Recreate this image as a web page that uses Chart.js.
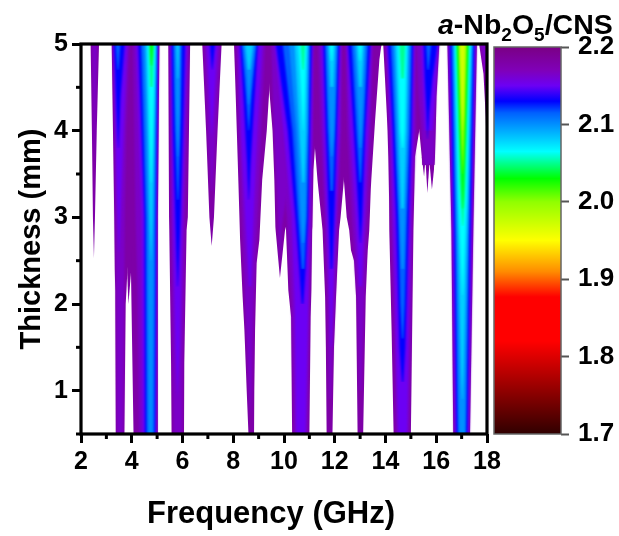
<!DOCTYPE html>
<html>
<head>
<meta charset="utf-8">
<title>a-Nb2O5/CNS</title>
<script src="https://cdn.jsdelivr.net/npm/chart.js@4"></script>
<style>
    html, body { margin: 0; padding: 0; background: #fff; overflow: hidden; }
    #wrap { position: relative; width: 619px; height: 536px; }
    canvas { position: absolute; top: 0; }
    #contourChart { left: 0; filter: blur(0.35px); }
    #scaleChart { left: 480px; filter: blur(0.35px); }
    #barTitle, #freqTitle {
        position: absolute; white-space: nowrap; color: #000; filter: blur(0.3px);
        font: bold 28.5px "Liberation Sans", Arial, sans-serif; line-height: 30px;
    }
    #barTitle { left: 438px; top: 9px; }
    #barTitle sub { font-size: 19px; line-height: 0; vertical-align: -7px; }
    #freqTitle { left: 147px; top: 496px; font-size: 31px; line-height: 34px; }
</style>
</head>
<body>
<div id="wrap">
    <canvas id="contourChart" width="619" height="536"></canvas>
    <canvas id="scaleChart" width="139" height="536"></canvas>
    <div id="barTitle"><i>a</i>-Nb<sub>2</sub>O<sub>5</sub>/CNS</div>
    <div id="freqTitle">Frequency (GHz)</div>
</div>
<script>
const freqLabels = [2, 4, 6, 8, 10, 12, 14, 16, 18];
const freqMinor = [3, 5, 7, 9, 11, 13, 15, 17];
const thickLabels = [1, 2, 3, 4, 5];
const thickMinor = [0.5, 1.5, 2.5, 3.5, 4.5];
const barLabels = [1.7, 1.8, 1.9, 2.0, 2.1, 2.2];

// colour scale of the bar
const paletteValues = [2.2, 2.17, 2.15, 2.13, 2.115, 2.1, 2.065, 2.05, 2.03, 2.0, 1.95, 1.91, 1.877, 1.82, 1.7];
const paletteColors = ['#7a0084', '#8000b8', '#6c00f4', '#0000ff', '#0060ff', '#0090ff', '#00ffff', '#00ff90',
    '#00ff00', '#90ff00', '#ffff00', '#ff8c00', '#ff0000', '#ff0000', '#300000'];

// contour levels, each lobe is rows of [thickness, left GHz, right GHz]
const levels = [2.18, 2.165, 2.15, 2.13, 2.115, 2.1, 2.08, 2.065, 2.05, 2.03, 2.0, 1.97];

const contour218 = [
    [[5, 2.38, 2.71], [4, 2.43, 2.62], [3, 2.47, 2.55], [2.53, 2.51, 2.51]],
    [[5, 3.21, 4.3], [3, 3.31, 4.3], [2.4, 3.33, 3.83], [2.15, 3.35, 3.79], [2, 3.35, 3.76], [0.5, 3.37, 3.71]],
    [[5, 3.8, 4.2], [2.36, 3.82, 3.97], [2, 3.87, 3.87]],
    [[5, 3.9, 5.09], [3, 3.95, 5.03], [2.36, 3.97, 5.03], [0.5, 4.07, 5.03]],
    [[5, 5.44, 6.3], [3, 5.47, 6.21], [2.85, 5.48, 6.16], [1.32, 5.55, 6.07], [0.5, 5.57, 6.06]],
    [[5, 6.78, 7.54], [4, 6.93, 7.38], [3, 7.06, 7.24], [2.67, 7.15, 7.15]],
    [[5, 8.03, 9.6], [4.47, 8.09, 9.42], [4, 8.14, 9.32], [3.43, 8.2, 9.14], [2.74, 8.27, 9.03], [2.47, 8.31, 8.92],
        [2.08, 8.37, 8.89], [1.7, 8.44, 8.86], [1, 8.53, 8.83], [0.5, 8.6, 8.82]],
    [[5, 9.4, 10.5], [4.47, 9.42, 10.5], [4, 9.55, 10.4], [3.43, 9.62, 10.2], [2.89, 9.66, 10.08], [2.85, 9.67, 10.04], [2.3, 9.84, 9.84]],
    [[5, 10, 11.3], [3.8, 10, 11.22], [3.55, 10, 11.16], [2.89, 10.08, 11.12], [2.85, 10.08, 11.11], [2.16, 10.17, 11.08], [1.85, 10.28, 11.05], [0.5, 10.32, 11]],
    [[5, 11, 12.5], [3.8, 11.22, 12.4], [3.43, 11.32, 12.36], [3, 11.47, 12.23], [2.85, 11.52, 12.17], [2.08, 11.62, 12.05], [1.5, 11.65, 11.97], [0.5, 11.68, 11.91]],
    [[5, 12, 13.85], [4.95, 12.1, 13.82], [4.82, 12.1, 13.76], [4.12, 12.2, 13.59], [3.43, 12.36, 13.44], [3.32, 12.39, 13.42], [3, 12.47, 13.38],
        [2.85, 12.57, 13.36], [2.62, 12.64, 13.3], [2.5, 12.76, 13.28], [2.08, 12.84, 13.22], [0.5, 12.9, 13.12]],
    [[5, 13.91, 15.33], [4.2, 14.05, 15.33], [4, 14.08, 15.33], [3.7, 14.11, 15.16], [3.24, 14.14, 15.13], [2.85, 14.15, 15.1], [1.7, 14.24, 15.05], [0.5, 14.32, 15]],
    [[5, 15.1, 16.12], [4.39, 15.2, 16.01], [4, 15.33, 15.98], [3.7, 15.43, 15.95], [3.6, 15.45, 15.93]],
    [[3.7, 15.43, 15.58], [3.47, 15.52, 15.52]],
    [[3.7, 15.57, 15.75], [3.28, 15.65, 15.65]],
    [[3.7, 15.72, 15.93], [3.55, 15.76, 15.91], [3.32, 15.83, 15.83]],
    [[5, 16.44, 17.6], [2.85, 16.6, 17.46], [0.5, 16.67, 17.33]],
    [[5, 17.69, 18], [4.66, 17.86, 18], [4.16, 17.95, 18], [3.6, 18, 18]]
];
const contour2165 = [
    [[5, 2.45, 2.63], [4, 2.5, 2.55], [3.6, 2.52, 2.52]],
    [[5, 3.25, 3.9], [4, 3.33, 3.78], [3, 3.36, 3.72], [2, 3.4, 3.7], [0.5, 3.42, 3.66]],
    [[5, 4.05, 5.06], [3, 4.15, 5], [2.3, 4.22, 4.98], [0.5, 4.28, 4.99]],
    [[5, 5.5, 6.24], [3, 5.55, 6.1], [1.3, 5.62, 6], [0.5, 5.65, 5.98]],
    [[5, 6.85, 7.48], [4, 7, 7.32], [3.3, 7.13, 7.17]],
    [[5, 8.12, 9.25], [4, 8.22, 9.1], [3, 8.35, 8.95], [2, 8.47, 8.8], [1, 8.62, 8.73], [0.7, 8.67, 8.68]],
    [[5, 9.5, 10.5], [4, 9.6, 10.5], [3.43, 9.7, 10.2], [2.9, 9.78, 9.92], [2.5, 9.84, 9.85]],
    [[5, 9.55, 11.17], [4, 9.8, 11.14], [3, 10.12, 11.08], [2, 10.3, 11], [0.5, 10.4, 10.92]],
    [[5, 11.35, 12.28], [4, 11.45, 12.25], [3, 11.6, 12.12], [2, 11.72, 12], [0.9, 11.78, 11.84]],
    [[5, 12.42, 13.5], [4, 12.5, 13.42], [3, 12.68, 13.28], [2, 12.9, 13.15], [1, 12.98, 13.05]],
    [[5, 14, 15.2], [4, 14.15, 15.2], [3, 14.22, 15.05], [1.5, 14.35, 14.98], [0.5, 14.42, 14.92]],
    [[5, 15.22, 16.1], [4.4, 15.3, 15.98], [4, 15.42, 15.94], [3.6, 15.5, 15.9]],
    [[5, 16.47, 17.58], [2.85, 16.62, 17.44], [0.5, 16.7, 17.3]],
    [[5, 17.75, 18], [4.66, 17.92, 18]]
];
const contour215 = [
    [[5, 3.28, 3.82], [4, 3.36, 3.68], [3.2, 3.42, 3.58], [2.6, 3.49, 3.51]],
    [[5, 4.17, 5.03], [3, 4.38, 4.98], [0.5, 4.42, 4.96]],
    [[5, 5.53, 6.18], [3, 5.62, 6], [1.5, 5.72, 5.9], [0.9, 5.8, 5.8]],
    [[5, 6.95, 7.38], [4.3, 7.08, 7.24], [3.9, 7.15, 7.15]],
    [[5, 8.2, 9.15], [4, 8.3, 8.95], [3, 8.47, 8.8], [2.2, 8.62, 8.7]],
    [[5, 9.62, 11.13], [4, 9.98, 11.1], [3, 10.3, 11.02], [2, 10.42, 10.95], [0.5, 10.48, 10.85]],
    [[5, 11.45, 12.24], [4, 11.55, 12.18], [3, 11.68, 12.05], [2, 11.8, 11.92], [1.5, 11.84, 11.87]],
    [[5, 12.48, 13.44], [4, 12.6, 13.32], [3, 12.82, 13.18], [2.2, 12.97, 13.06]],
    [[5, 14.05, 15.14], [4, 14.2, 15.1], [3, 14.3, 15], [1.5, 14.42, 14.9], [0.5, 14.5, 14.85]],
    [[5, 15.4, 16.08], [4.4, 15.48, 15.95], [4, 15.55, 15.85]],
    [[5, 16.5, 17.55], [2.85, 16.65, 17.4], [0.5, 16.75, 17.27]]
];
const contour213 = [
    [[5, 3.3, 3.72], [4.4, 3.38, 3.56], [3.8, 3.46, 3.48]],
    [[5, 4.26, 5], [3, 4.5, 4.95], [0.5, 4.52, 4.92]],
    [[5, 5.57, 6.1], [4, 5.62, 6.02], [3, 5.72, 5.92], [2.2, 5.8, 5.82]],
    [[5, 7.08, 7.28], [4.7, 7.16, 7.18]],
    [[5, 8.27, 8.97], [4.3, 8.42, 8.82], [3.6, 8.55, 8.68], [3.2, 8.6, 8.62]],
    [[5, 9.68, 11.09], [4, 10.15, 11.02], [3, 10.45, 10.95], [2.4, 10.6, 10.85], [2, 10.7, 10.76]],
    [[5, 11.55, 12.18], [4, 11.65, 12.08], [3, 11.77, 11.98], [2.4, 11.84, 11.9]],
    [[5, 12.53, 13.4], [4, 12.75, 13.2], [3, 12.95, 13.08], [2.7, 13, 13.02]],
    [[5, 14.1, 15.08], [4, 14.28, 15.02], [3, 14.42, 14.92], [1.5, 14.55, 14.78], [1.1, 14.65, 14.7]],
    [[5, 15.5, 16.05], [4.6, 15.55, 15.85], [4.2, 15.62, 15.72], [3.9, 15.65, 15.66]],
    [[5, 16.54, 17.5], [2.85, 16.7, 17.35], [0.5, 16.8, 17.22]]
];
const contour2115 = [
    [[5, 3.36, 3.55], [4.7, 3.44, 3.48]],
    [[5, 4.36, 4.99], [3, 4.55, 4.93], [0.5, 4.58, 4.89]],
    [[5, 5.63, 5.98], [4, 5.7, 5.92], [3.2, 5.8, 5.84]],
    [[5, 8.33, 8.92], [4.4, 8.5, 8.72], [4, 8.6, 8.62]],
    [[5, 9.95, 11.03], [4, 10.33, 10.98], [3, 10.55, 10.9], [2.4, 10.7, 10.8]],
    [[5, 11.62, 12.13], [4, 11.72, 12.02], [3.3, 11.83, 11.93]],
    [[5, 12.66, 13.31], [4, 12.85, 13.14], [3.4, 12.98, 13.03]],
    [[5, 14.2, 15.03], [4, 14.36, 14.97], [3, 14.5, 14.85], [2, 14.58, 14.76], [1.6, 14.65, 14.7]],
    [[5, 15.6, 15.8], [4.7, 15.66, 15.7]],
    [[5, 16.6, 17.46], [2.85, 16.75, 17.3], [0.5, 16.85, 17.17]]
];
const contour210 = [
    [[5, 4.46, 4.98], [3, 4.63, 4.88], [0.5, 4.66, 4.82]],
    [[5, 5.7, 5.9], [4.2, 5.75, 5.88], [3.7, 5.81, 5.83]],
    [[5, 8.4, 8.86], [4.6, 8.54, 8.7], [4.3, 8.6, 8.62]],
    [[5, 10.2, 10.98], [4, 10.48, 10.93], [3, 10.65, 10.85], [2.7, 10.72, 10.78]],
    [[5, 11.68, 12.08], [4, 11.8, 11.97], [3.7, 11.86, 11.9]],
    [[5, 12.76, 13.23], [4.2, 12.92, 13.1], [3.8, 12.99, 13.03]],
    [[5, 14.3, 14.97], [4, 14.42, 14.9], [3, 14.55, 14.78], [2.4, 14.63, 14.72]],
    [[5, 16.66, 17.42], [2.85, 16.8, 17.26], [0.5, 16.9, 17.13]]
];
const contour208 = [
    [[5, 4.55, 4.95], [3.8, 4.65, 4.87], [3, 4.7, 4.82], [2.5, 4.75, 4.77]],
    [[5, 5.76, 5.86], [4.6, 5.8, 5.83]],
    [[5, 8.47, 8.78], [4.7, 8.58, 8.66]],
    [[5, 10.42, 10.94], [4, 10.6, 10.88], [3.4, 10.72, 10.8]],
    [[5, 11.75, 12.02], [4.5, 11.83, 11.94]],
    [[5, 12.85, 13.15], [4.5, 12.96, 13.06]],
    [[5, 14.38, 14.9], [4, 14.5, 14.83], [3.1, 14.62, 14.72]],
    [[5, 16.7, 17.38], [2.85, 16.85, 17.22], [1.2, 16.98, 17.07], [0.9, 17.02, 17.04]]
];
const contour2065 = [
    [[5, 4.62, 4.92], [4.3, 4.68, 4.86], [3.4, 4.75, 4.78]],
    [[5, 10.56, 10.89], [4.4, 10.68, 10.82], [4, 10.75, 10.77]],
    [[5, 11.8, 11.95], [4.8, 11.86, 11.9]],
    [[5, 12.93, 13.07], [4.8, 12.99, 13.02]],
    [[5, 14.47, 14.84], [4, 14.58, 14.75], [3.8, 14.65, 14.7]],
    [[5, 16.74, 17.34], [3.2, 16.88, 17.2], [2.5, 16.97, 17.1], [2.1, 17.03, 17.05]]
];
const contour205 = [
    [[5, 4.68, 4.88], [4.5, 4.73, 4.82]],
    [[5, 10.66, 10.83], [4.7, 10.73, 10.78]],
    [[5, 14.55, 14.78], [4.6, 14.63, 14.72]],
    [[5, 16.78, 17.3], [3.4, 16.92, 17.16], [2.9, 17.03, 17.06]]
];
const contour203 = [
    [[5, 4.72, 4.84], [4.75, 4.76, 4.79]],
    [[5, 16.82, 17.26], [4, 16.92, 17.16], [3.1, 17.04, 17.06]]
];
const contour200 = [
    [[5, 16.88, 17.2], [4, 16.97, 17.11], [3.5, 17.04, 17.05]]
];
const contour197 = [
    [[5, 16.93, 17.14], [4.3, 17, 17.08], [4, 17.04, 17.05]]
];
const contours = [contour218, contour2165, contour215, contour213, contour2115, contour210,
    contour208, contour2065, contour205, contour203, contour200, contour197];

const fontName = '"Liberation Sans", Arial, sans-serif';

function colorFor(value) {
    const hex = c => [1, 3, 5].map(i => parseInt(c.substr(i, 2), 16));
    for (let i = 0; i < paletteValues.length - 1; i++) {
        if (value <= paletteValues[i] && value >= paletteValues[i + 1]) {
            const t = (paletteValues[i] - value) / (paletteValues[i] - paletteValues[i + 1]);
            const a = hex(paletteColors[i]);
            const b = hex(paletteColors[i + 1]);
            return `rgb(${a.map((v, k) => Math.round(v + (b[k] - v) * t)).join(',')})`;
        }
    }
    return paletteColors[0];
}

// every lobe is a pair of lines (left and right edge) filled to each other,
// lower order draws on top so the inner levels stay visible.
// borderDash is only there to keep chart.js off its fast path, that one merges points on near vertical edges
const datasets = [];
contours.forEach((lobes, i) => {
    const color = colorFor(levels[i]);
    lobes.forEach(rows => {
        const base = { pointRadius: 0, borderWidth: 0, borderDash: [2, 2], tension: 0, order: -i };
        datasets.push({ ...base, data: rows.map(r => ({ x: r[1], y: r[0] })), fill: false });
        datasets.push({ ...base, data: rows.map(r => ({ x: r[2], y: r[0] })), fill: '-1', backgroundColor: color });
    });
});

// the outer level keeps a sharp edge, the inner levels are softened so they run into each other
let drawnSets = 0;
const softBands = {
    id: 'softBands',
    beforeDatasetsDraw() {
        drawnSets = 0;
    },
    afterDatasetDraw(chart) {
        drawnSets++;
        if (drawnSets >= contour218.length * 2) chart.ctx.filter = 'blur(1.3px)';
    },
    afterDatasetsDraw(chart) {
        chart.ctx.filter = 'none';
    }
};

const framePlugin = {
    id: 'frame',
    afterDatasetsDraw(chart) {
        const { ctx, chartArea: a, scales } = chart;
        ctx.save();
        ctx.strokeStyle = '#000';
        ctx.lineWidth = 3;
        freqMinor.forEach(v => {
            const px = scales.x.getPixelForValue(v);
            ctx.beginPath();
            ctx.moveTo(px, a.bottom);
            ctx.lineTo(px, a.bottom + 5);
            ctx.stroke();
        });
        thickMinor.forEach(v => {
            const py = scales.y.getPixelForValue(v);
            ctx.beginPath();
            ctx.moveTo(a.left, py);
            ctx.lineTo(a.left - 5, py);
            ctx.stroke();
        });
        ctx.lineWidth = 3.2;
        ctx.strokeRect(a.left, a.top, a.right - a.left, a.bottom - a.top);
        ctx.restore();
    }
};

new Chart(document.getElementById('contourChart'), {
    type: 'line',
    data: { datasets },
    plugins: [softBands, framePlugin],
    options: {
        indexAxis: 'y',
        responsive: false,
        animation: false,
        layout: { padding: { top: 44, right: 132 } },
        plugins: { legend: { display: false }, tooltip: { enabled: false } },
        scales: {
            x: {
                type: 'linear',
                min: 2,
                max: 18,
                afterFit: scale => { scale.height = 102; },
                border: { display: false },
                grid: {
                    drawOnChartArea: false,
                    tickLength: 9,
                    tickColor: '#000',
                    tickWidth: c => (freqLabels.includes(c.tick.value) ? 3 : 0)
                },
                ticks: {
                    stepSize: 1,
                    autoSkip: false,
                    maxRotation: 0,
                    padding: 4,
                    color: '#000',
                    font: { family: fontName, weight: 'bold', size: 25 },
                    callback: v => (freqLabels.includes(v) ? String(v) : '')
                }
            },
            y: {
                type: 'linear',
                min: 0.5,
                max: 5,
                afterFit: scale => { scale.width = 81; },
                border: { display: false },
                grid: {
                    drawOnChartArea: false,
                    tickLength: 9,
                    tickColor: '#000',
                    tickWidth: c => (thickLabels.includes(c.tick.value) ? 3 : 0)
                },
                ticks: {
                    stepSize: 0.5,
                    autoSkip: false,
                    padding: 4,
                    color: '#000',
                    font: { family: fontName, weight: 'bold', size: 25 },
                    callback: v => (thickLabels.includes(v) ? String(v) : '')
                },
                title: {
                    display: true,
                    text: 'Thickness (mm)',
                    color: '#000',
                    font: { family: fontName, weight: 'bold', size: 29 },
                    padding: { top: 15, bottom: 0 }
                }
            }
        }
    }
});

function barGradient(context) {
    const { chart } = context;
    if (!chart.chartArea) return paletteColors[0];
    const y = chart.scales.y;
    const gradient = chart.ctx.createLinearGradient(0, y.getPixelForValue(2.2), 0, y.getPixelForValue(1.7));
    paletteValues.forEach((v, i) => {
        gradient.addColorStop(Math.min(1, Math.max(0, (2.2 - v) / 0.5)), paletteColors[i]);
    });
    return gradient;
}

const barFrame = {
    id: 'barFrame',
    afterDatasetsDraw(chart) {
        const { ctx, chartArea: a } = chart;
        ctx.save();
        ctx.strokeStyle = '#666';
        ctx.lineWidth = 1.5;
        ctx.strokeRect(a.left, a.top, a.right - a.left, a.bottom - a.top);
        ctx.restore();
    }
};

new Chart(document.getElementById('scaleChart'), {
    type: 'bar',
    data: {
        labels: [''],
        datasets: [{ data: [[1.7, 2.2]], backgroundColor: barGradient, barPercentage: 1, categoryPercentage: 1 }]
    },
    plugins: [barFrame],
    options: {
        responsive: false,
        animation: false,
        layout: { padding: { top: 47, bottom: 102, left: 14 } },
        plugins: { legend: { display: false }, tooltip: { enabled: false } },
        scales: {
            x: { display: false },
            y: {
                position: 'right',
                min: 1.7,
                max: 2.2,
                afterFit: scale => { scale.width = 58; },
                border: { display: false },
                grid: { drawOnChartArea: false, tickLength: 8, tickColor: '#555', tickWidth: 2 },
                ticks: {
                    stepSize: 0.1,
                    padding: 9,
                    color: '#000',
                    font: { family: fontName, weight: 'bold', size: 26 },
                    callback: v => (barLabels.some(b => Math.abs(b - v) < 0.001) ? v.toFixed(1) : '')
                }
            }
        }
    }
});
</script>
</body>
</html>
